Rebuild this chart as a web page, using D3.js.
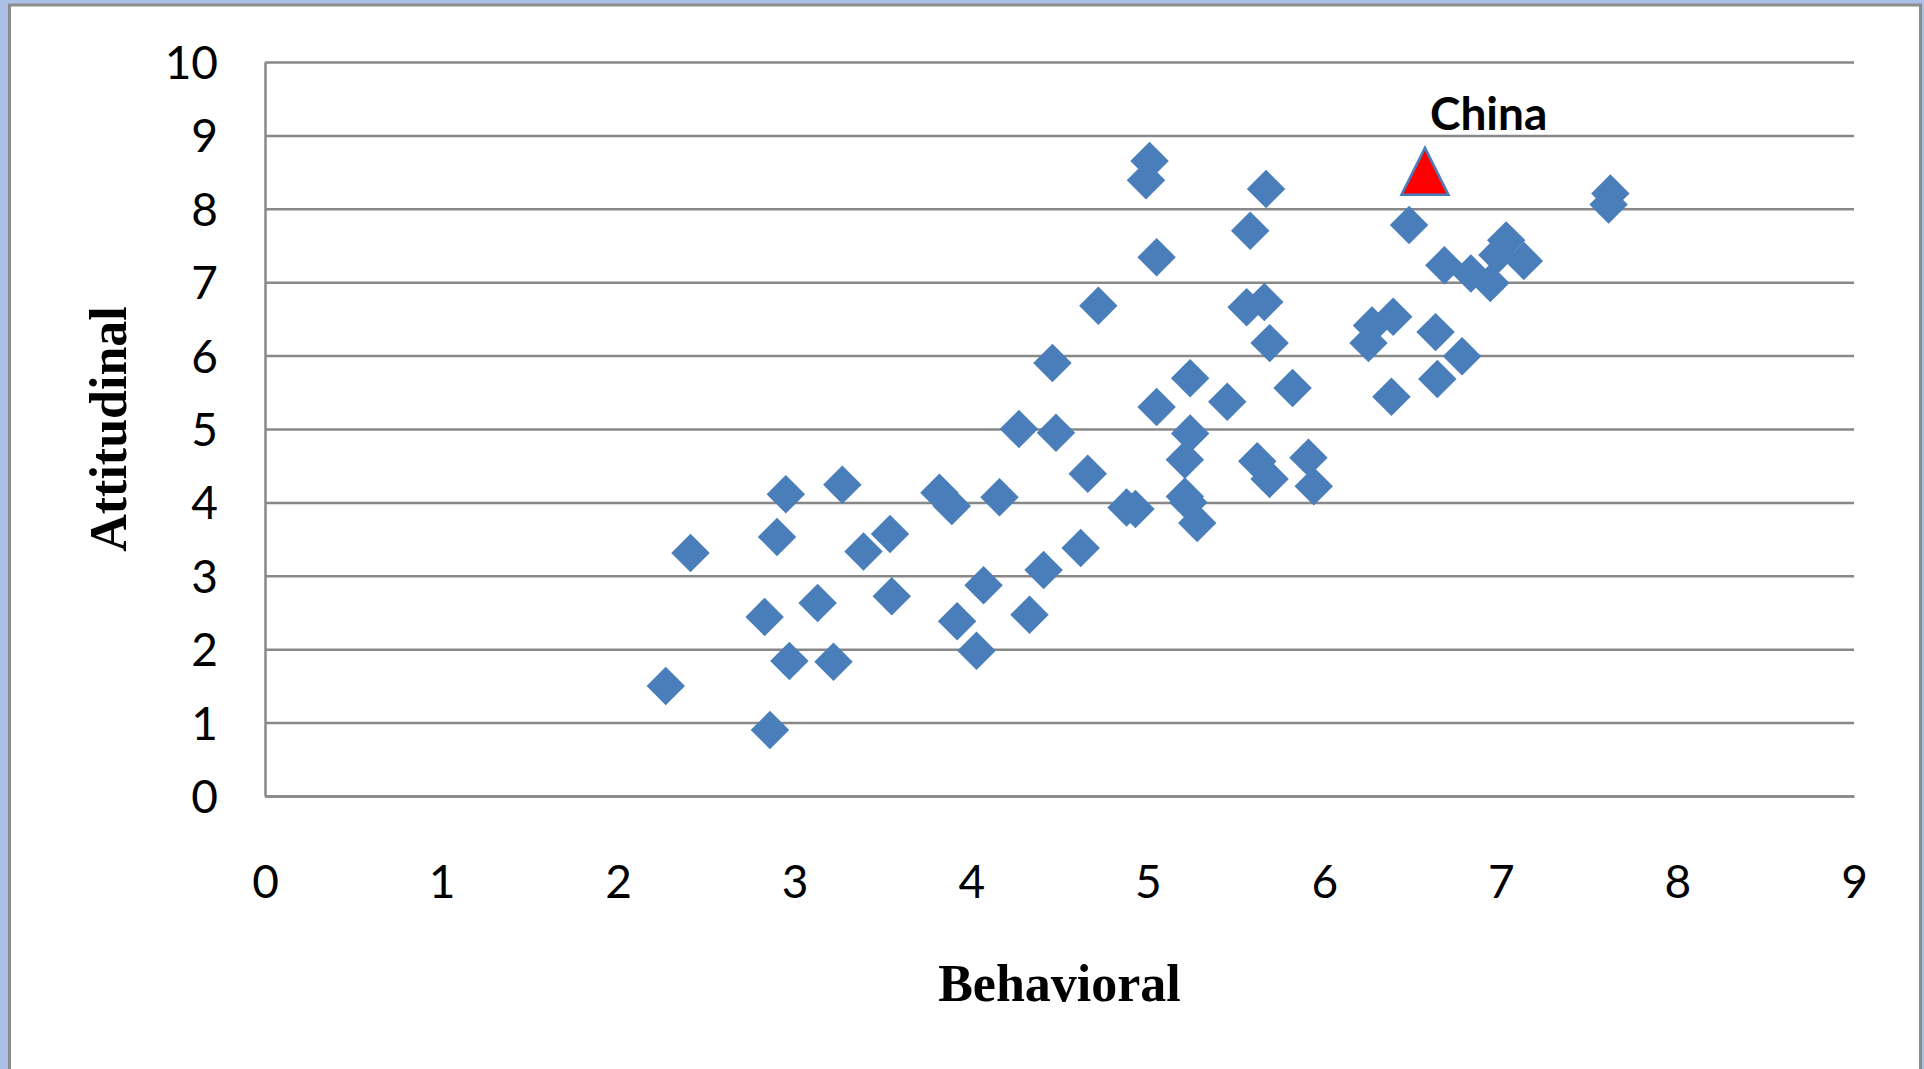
<!DOCTYPE html>
<html>
<head>
<meta charset="utf-8">
<script src="https://cdn.jsdelivr.net/npm/d3@7"></script>
<style>
  body { margin: 0; background: #aac0e6; }
  svg { display: block; }
</style>
</head>
<body>
<div id="chart"></div>
<script>
// Data: countries (Behavioral, Attitudinal)
const behavioral = [
    2.27, 2.41, 2.83, 2.86, 2.90, 2.95, 2.97, 3.13, 3.22, 3.27,
    3.39, 3.54, 3.55, 3.82, 3.89, 3.92, 4.03, 4.07, 4.16, 4.27,
    4.33, 4.41, 4.46, 4.48, 4.62, 4.66, 4.72, 4.88, 4.93, 4.99,
    5.01, 5.05, 5.05, 5.21, 5.21, 5.24, 5.24, 5.23, 5.28, 5.45,
    5.58, 5.56, 5.62, 5.67, 5.66, 5.69, 5.69, 5.82, 5.91, 5.94,
    6.25, 6.27, 6.38, 6.39, 6.48, 6.63, 6.64, 6.68, 6.78, 6.83,
    6.94, 6.98, 7.03, 7.13, 7.62, 7.61
];
const attitudinal = [
    1.50, 3.31, 2.44, 0.90, 3.53, 4.11, 1.84, 2.63, 1.83, 4.24,
    3.33, 3.57, 2.72, 4.13, 3.95, 2.38, 1.98, 2.87, 4.07, 5.00,
    2.47, 3.08, 5.90, 4.95, 3.38, 4.39, 6.68, 3.93, 3.91, 8.39,
    8.65, 5.30, 7.34, 4.08, 4.58, 5.69, 4.94, 4.00, 3.72, 5.37,
    7.70, 6.66, 4.56, 8.27, 6.73, 6.17, 4.32, 5.56, 4.61, 4.22,
    6.17, 6.41, 5.44, 6.53, 7.78, 6.32, 5.68, 7.23, 5.99, 7.12,
    6.99, 7.37, 7.57, 7.29, 8.21, 8.06
];

const highlightName = 'China';
const highlightBehavioral = 6.57;
const highlightAttitudinal = 8.51;

const xTicks = [0, 1, 2, 3, 4, 5, 6, 7, 8, 9];
const yTicks = [0, 1, 2, 3, 4, 5, 6, 7, 8, 9, 10];

const xTitle = 'Behavioral';
const yTitle = 'Attitudinal';

const dataSet = behavioral.map((b, i) => ({ behavioral: b, attitudinal: attitudinal[i] }));

const xAccessor = d => d.behavioral;
const yAccessor = d => d.attitudinal;

function draw() {
    // Dimensions
    let dimensions = {
        width: 1924,
        height: 1069,
        margin: {
            top: 62,
            bottom: 273,
            left: 265,
            right: 70
        }
    };

    dimensions.ctrWidth = dimensions.width - dimensions.margin.left - dimensions.margin.right;
    dimensions.ctrHeight = dimensions.height - dimensions.margin.top - dimensions.margin.bottom;

    // Scales
    const xScale = d3.scaleLinear()
        .domain([0, 9])
        .range([0, dimensions.ctrWidth]);

    const yScale = d3.scaleLinear()
        .domain([0, 10])
        .range([dimensions.ctrHeight, 0]);

    // Draw Image
    const svg = d3.select('#chart')
        .append('svg')
        .attr('width', dimensions.width)
        .attr('height', dimensions.height);

    // slide background + chart area frame
    svg.append('rect')
        .attr('width', dimensions.width)
        .attr('height', dimensions.height)
        .attr('fill', '#aac0e6');

    svg.append('rect')
        .attr('x', 9.5)
        .attr('y', 5)
        .attr('width', 1911)
        .attr('height', 1090)
        .attr('fill', '#ffffff')
        .attr('stroke', '#8c8c8c')
        .attr('stroke-width', 3);

    const ctr = svg.append('g')
        .attr(
            'transform',
            `translate(${dimensions.margin.left},${dimensions.margin.top})`
        );

    // Axes
    const yAxis = d3.axisLeft(yScale)
        .tickValues(yTicks)
        .tickSize(-dimensions.ctrWidth)
        .tickSizeOuter(0)
        .tickPadding(47)
        .tickFormat(d3.format('d'));

    const yAxisGroup = ctr.append('g')
        .call(yAxis);

    yAxisGroup.selectAll('.tick line')
        .attr('stroke', '#888888')
        .attr('stroke-width', 2.5);

    yAxisGroup.select('.domain')
        .attr('stroke', '#888888')
        .attr('stroke-width', 2.5);

    yAxisGroup.selectAll('.tick text')
        .attr('dy', '0.36em')
        .style('font-family', 'Lato, "Open Sans", sans-serif')
        .style('font-size', '46px')
        .attr('fill', '#000000');

    const xAxis = d3.axisBottom(xScale)
        .tickValues(xTicks)
        .tickSize(0)
        .tickPadding(69)
        .tickFormat(d3.format('d'));

    const xAxisGroup = ctr.append('g')
        .call(xAxis)
        .attr('transform', `translate(0,${dimensions.ctrHeight})`);

    xAxisGroup.select('.domain')
        .attr('stroke', '#888888')
        .attr('stroke-width', 2.5);

    xAxisGroup.selectAll('.tick text')
        .style('font-family', 'Lato, "Open Sans", sans-serif')
        .style('font-size', '46px')
        .attr('fill', '#000000');

    xAxisGroup.append('text')
        .attr('x', dimensions.ctrWidth / 2)
        .attr('y', 205)
        .attr('fill', 'black')
        .style('font-family', '"Liberation Serif", "Times New Roman", serif')
        .style('font-weight', 'bold')
        .style('font-size', '52px')
        .style('text-anchor', 'middle')
        .text(xTitle);

    yAxisGroup.append('text')
        .attr('x', -dimensions.ctrHeight / 2)
        .attr('y', -139)
        .attr('fill', 'black')
        .attr('transform', 'rotate(-90)')
        .style('font-family', '"Liberation Serif", "Times New Roman", serif')
        .style('font-weight', 'bold')
        .style('font-size', '52px')
        .style('text-anchor', 'middle')
        .text(yTitle);

    // Draw Diamonds
    const diamond = d3.symbol(d3.symbolSquare, 740);

    ctr.append('g')
        .selectAll('path')
        .data(dataSet)
        .join('path')
        .attr('d', diamond)
        .attr('fill', '#4a7ebb')
        .attr('transform', d => `translate(${xScale(xAccessor(d))},${yScale(yAccessor(d))}) rotate(45)`);

    // Highlighted country
    const tallTriangle = {
        draw(context, size) {
            const w = Math.sqrt(size);
            context.moveTo(0, -w / 2);
            context.lineTo(w / 2, w / 2);
            context.lineTo(-w / 2, w / 2);
            context.closePath();
        }
    };

    const hx = xScale(highlightBehavioral);
    const hy = yScale(highlightAttitudinal);

    ctr.append('path')
        .attr('d', d3.symbol(tallTriangle, 2209)())
        .attr('transform', `translate(${hx},${hy})`)
        .attr('fill', '#ff0000')
        .attr('stroke', '#4a7ebb')
        .attr('stroke-width', 2.5)
        .attr('stroke-linejoin', 'miter');

    ctr.append('text')
        .attr('x', hx + 5)
        .attr('y', hy - 41)
        .attr('fill', '#000000')
        .style('font-family', 'Lato, "Open Sans", sans-serif')
        .style('font-weight', 'bold')
        .style('font-size', '46px')
        .text(highlightName);
}

draw();
</script>
</body>
</html>
